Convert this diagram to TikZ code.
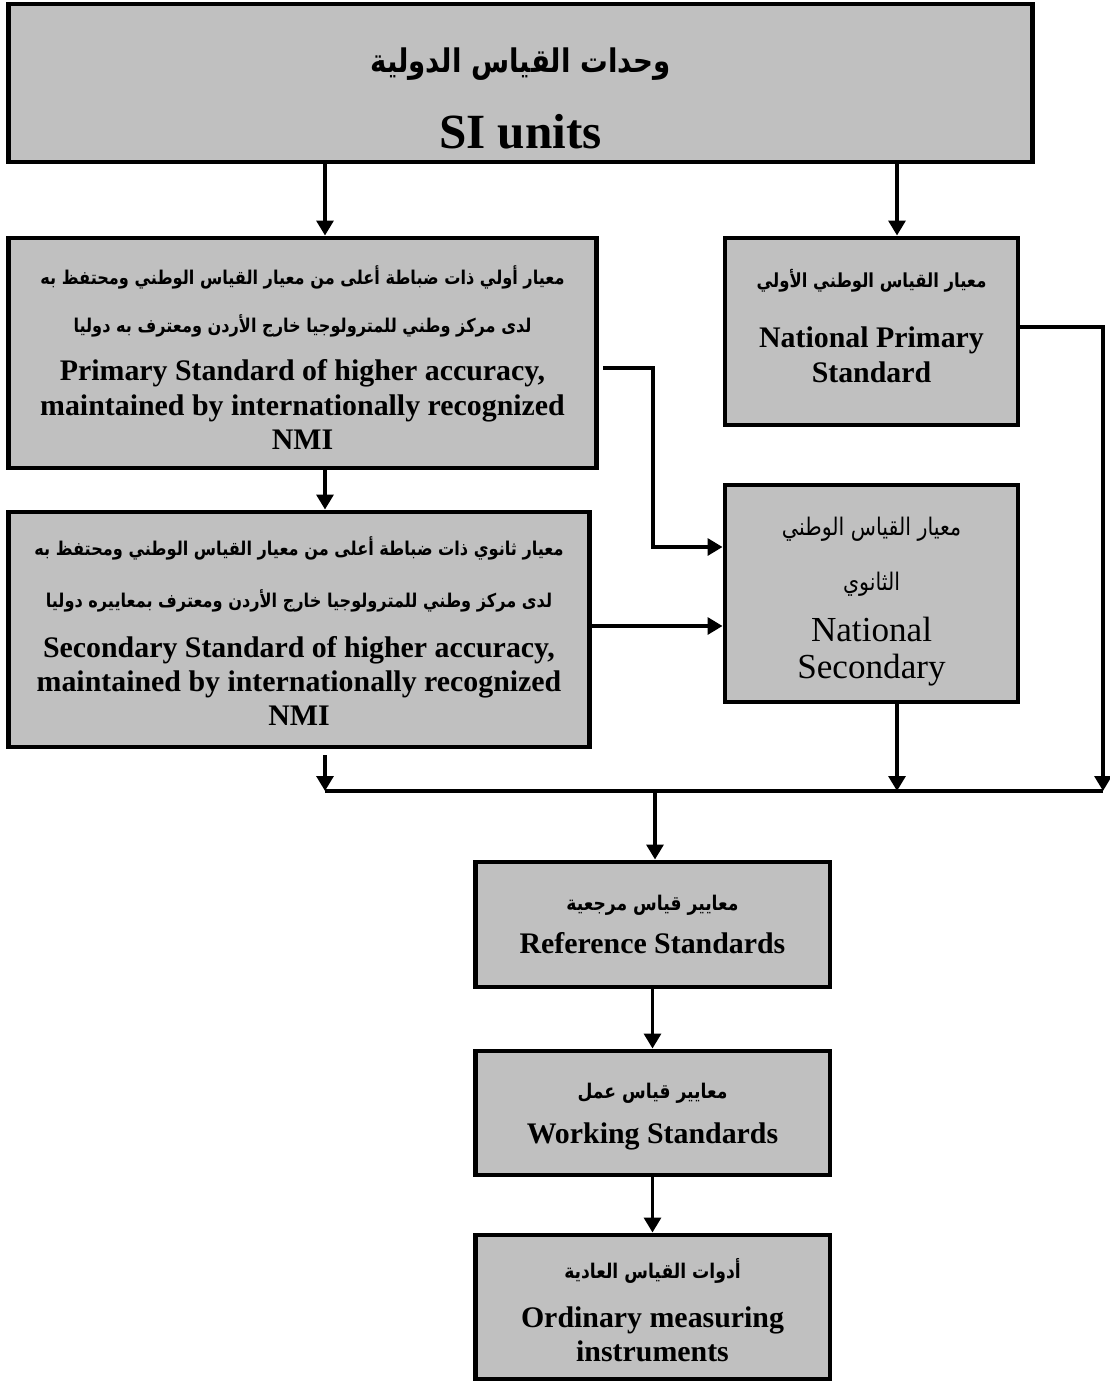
\documentclass[tikz,border=0pt]{standalone}
\usepackage{fontspec}
\setmainfont{Liberation Serif}
\newfontfamily\arabicfont[Script=Arabic, FakeStretch=0.85]{DejaVu Sans}
\TeXXeTstate=1
\usetikzlibrary{arrows.meta}
\definecolor{boxgray}{HTML}{C0C0C0}
\newcommand{\artext}[2][11]{{\arabicfont\bfseries\fontsize{#1}{19.5}\selectfont\beginR #2\endR}}
\newcommand{\artextreg}[2][11]{{\arabicfont\mdseries\fontsize{#1}{19.5}\selectfont\beginR #2\endR}}
\newcommand{\leadgap}[1]{\mbox{}\\[#1]}

\begin{document}
\begin{tikzpicture}[x=0.02cm, y=-0.02cm,
  boxnode/.style={rectangle, draw=black, fill=boxgray, line width=2.8pt, inner sep=0pt, align=center, font=\bfseries\fontsize{17}{19.5}\selectfont},
  connector/.style={line width=2.2pt, -{Triangle[length=8.5pt, width=9.5pt]}},
  wire/.style={line width=2.2pt},
]
\useasboundingbox (0,0) rectangle (1109,1382);
% boxes
\node[boxnode, minimum width=20.5cm, minimum height=3.16cm] (si) at (520.5,83) {\leadgap{12pt} \artext[18.5]{وحدات القياس الدولية}\\[18pt] {\fontsize{28}{30}\selectfont SI units}};
\node[boxnode, minimum width=11.78cm, minimum height=4.6cm] (ps) at (302.5,353) {\leadgap{-3.7pt} \artext[10.8]{معيار أولي ذات ضباطة أعلى من معيار القياس الوطني ومحتفظ به}\\[8pt] \artext[10.8]{لدى مركز وطني للمترولوجيا خارج الأردن ومعترف به دوليا}\\[8pt] Primary Standard of higher accuracy,\\ maintained by internationally recognized\\ NMI};
\node[boxnode, minimum width=5.86cm, minimum height=3.74cm, text depth=6.8pt] (nps) at (871.5,331.5) {\artext{معيار القياس الوطني الأولي}\\[15pt] National Primary\\ Standard};
\node[boxnode, minimum width=11.64cm, minimum height=4.7cm] (ss) at (299,629.5) {\leadgap{-7.1pt} \artext[10.8]{معيار ثانوي ذات ضباطة أعلى من معيار القياس الوطني ومحتفظ به}\\[10pt] \artext[10.8]{لدى مركز وطني للمترولوجيا خارج الأردن ومعترف بمعاييره دوليا}\\[9pt] Secondary Standard of higher accuracy,\\ maintained by internationally recognized\\ NMI};
\node[boxnode, minimum width=5.86cm, minimum height=4.34cm, text depth=0pt] (nss) at (871.5,593.5) {\leadgap{-3.8pt} \artextreg[13.8]{معيار القياس الوطني}\\[11.7pt] \artextreg[13.8]{الثانوي}\\[9.7pt] {\mdseries\fontsize{20}{22}\selectfont National}\\[1.5pt] {\mdseries\fontsize{20}{22}\selectfont Secondary}};
\node[boxnode, minimum width=7.1cm, minimum height=2.5cm] (rs) at (652.5,924.5) {\artext[11.5]{معايير قياس مرجعية}\\[5pt] Reference Standards};
\node[boxnode, minimum width=7.1cm, minimum height=2.48cm, text depth=0pt] (ws) at (652.5,1113) {\artext[11.5]{معايير قياس عمل}\\[6pt] Working Standards};
\node[boxnode, minimum width=7.1cm, minimum height=2.88cm] (omi) at (652.5,1307) {\leadgap{-4.2pt} \artext[11.5]{أدوات القياس العادية}\\[8pt] Ordinary measuring\\ instruments};
% routing points
\coordinate (colL) at (325,0);
\coordinate (colR) at (897,0);
\coordinate (colM) at (655,0);
\coordinate (rail) at (1103,0);
\coordinate (bus) at (0,791);
\coordinate (railtop) at (0,327);
\coordinate (inA) at (0,547);
\coordinate (inB) at (0,626);
\coordinate (psout) at (603,368);
\coordinate (elbow) at (653,368);
\coordinate (ssout) at (325,755);
% connectors
\draw[connector] (si.south -| colL) -- (ps.north -| colL);
\draw[connector] (si.south -| colR) -- (nps.north -| colR);
\draw[connector] (ps.south -| colL) -- (ss.north -| colL);
\draw[connector] (psout) -- (elbow) |- (nss.west |- inA);
\draw[connector] (ss.east |- inB) -- (nss.west |- inB);
\draw[connector] (nps.east |- railtop) -| (rail |- bus);
\draw[connector] (nss.south -| colR) -- (colR |- bus);
\draw[connector] (ssout) -- (colL |- bus);
\draw[wire] (colL |- bus) -- (rail |- bus);
\draw[connector] (colM |- bus) -- (rs.north -| colM);
\draw[connector] (rs) -- (ws);
\draw[connector] (ws) -- (omi);
\end{tikzpicture}
\end{document}
